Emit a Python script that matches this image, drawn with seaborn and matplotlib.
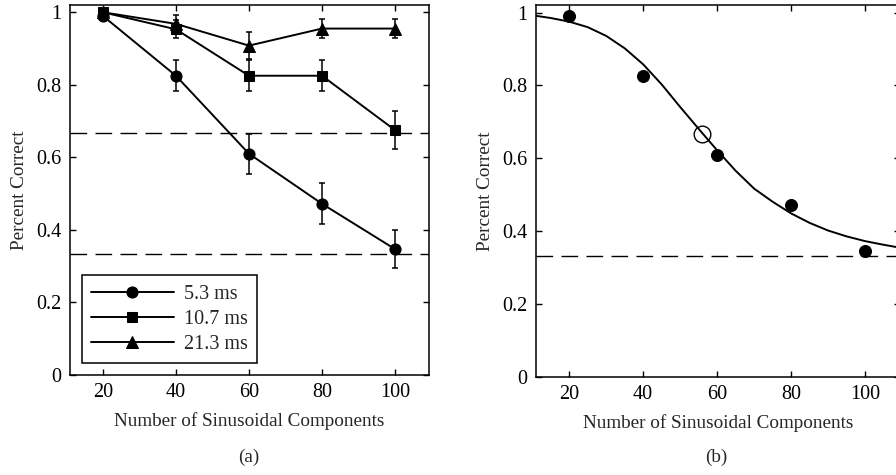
import seaborn as sns
import numpy as np
import matplotlib
matplotlib.use("Agg")
import matplotlib.pyplot as plt
import pandas as pd
from matplotlib.ticker import FormatStrFormatter

# number of sinusoidal components
components = [20, 40, 60, 80, 100]

# percent correct per stimulus duration, with error bar half-widths
pc_5ms = [0.99, 0.825, 0.61, 0.472, 0.347]
err_5ms = [0.0, 0.042, 0.055, 0.057, 0.053]
pc_10ms = [1.0, 0.953, 0.825, 0.825, 0.675]
err_10ms = [0.0, 0.025, 0.042, 0.042, 0.052]
pc_21ms = [1.0, 0.968, 0.908, 0.955, 0.955]
err_21ms = [0.0, 0.024, 0.037, 0.026, 0.026]

durations = ["5.3 ms", "10.7 ms", "21.3 ms"]
markers = ["o", "s", "^"]

# fitted psychometric curve and threshold point
curve_x = [11, 15, 20, 25, 30, 35, 40, 45, 50, 55, 60, 65, 70, 75, 80, 85, 90, 95, 100, 105, 110]
curve_y = [0.991, 0.985, 0.975, 0.960, 0.936, 0.902, 0.858, 0.803, 0.741, 0.681, 0.622, 0.566,
           0.517, 0.481, 0.449, 0.423, 0.402, 0.386, 0.373, 0.363, 0.354]
thresh_x = [56]
thresh_y = [0.667]

chance_lines = [0.667, 0.333]

sns.set_theme(style="ticks")
plt.rcParams["font.family"] = ["Liberation Serif", "DejaVu Serif"]
plt.rcParams["font.size"] = 14

fig = plt.figure(figsize=(8.96, 4.75), dpi=100)
ax1 = fig.add_axes([0.0781, 0.2105, 0.4007, 0.779])
ax2 = fig.add_axes([0.598, 0.206, 0.406, 0.783])

# panel (a)
all_pc = [pc_5ms, pc_10ms, pc_21ms]
all_err = [err_5ms, err_10ms, err_21ms]
for name, mk, pc, err in zip(durations, markers, all_pc, all_err):
    df = pd.DataFrame({"n": components, "pc": pc})
    ax1.errorbar(components, pc, yerr=err, fmt="none", ecolor="black",
                 elinewidth=1.1, capsize=2.3, capthick=1.1)
    sns.lineplot(data=df, x="n", y="pc", ax=ax1, color="black", marker=mk,
                 markersize=8 if mk != "s" else 7, markeredgecolor="black",
                 linewidth=1.4, label=name, errorbar=None)

for yv in chance_lines:
    ax1.axhline(yv, color="black", linewidth=1.0, dashes=(12, 6))

leg = ax1.legend(loc="lower left", borderaxespad=0.6, frameon=True,
                 fancybox=False, edgecolor="black", framealpha=1,
                 handlelength=4.1, handletextpad=0.5, fontsize=14.5,
                 borderpad=0.45, labelspacing=0.3)
leg.get_frame().set_linewidth(1.1)

# panel (b)
df_pts = pd.DataFrame({"n": components, "pc": pc_5ms})
df_fit = pd.DataFrame({"n": curve_x, "pc": curve_y})
sns.lineplot(data=df_fit, x="n", y="pc", ax=ax2, color="black", linewidth=1.4,
             errorbar=None, sort=False)
sns.scatterplot(data=df_pts, x="n", y="pc", ax=ax2, color="black", s=75,
                edgecolor="black", zorder=3)
ax2.plot(thresh_x, thresh_y, marker="o", markersize=12, markerfacecolor="none",
         markeredgecolor="black", markeredgewidth=1.0, linestyle="none")
for yv in chance_lines[1:]:
    ax2.axhline(yv, color="black", linewidth=1.0, dashes=(12, 6))

for ax, tag in [(ax1, "(a)"), (ax2, "(b)")]:
    ax.set_xlim(11, 109.3)
    ax.set_ylim(0, 1.02)
    ax.set_xticks(components)
    ax.set_yticks([0, 0.2, 0.4, 0.6, 0.8, 1.0])
    ax.yaxis.set_major_formatter(FormatStrFormatter("%g"))
    ax.tick_params(direction="in", top=True, right=True, length=4, width=1,
                   labelsize=14.5, pad=6, colors="black")
    for sp in ax.spines.values():
        sp.set_visible(True)
        sp.set_linewidth(1.1)
        sp.set_color("black")
    ax.set_xlabel("Number of Sinusoidal Components", fontsize=13.8, labelpad=7)
    ax.set_ylabel("Percent Correct", fontsize=13.8, labelpad=6)
    ax.set_facecolor("white")

fig.text(0.278, 0.038, "(a)", ha="center", va="center", fontsize=13.8)
fig.text(0.799, 0.038, "(b)", ha="center", va="center", fontsize=13.8)

fig.savefig("out.png", dpi=100, facecolor="white")
